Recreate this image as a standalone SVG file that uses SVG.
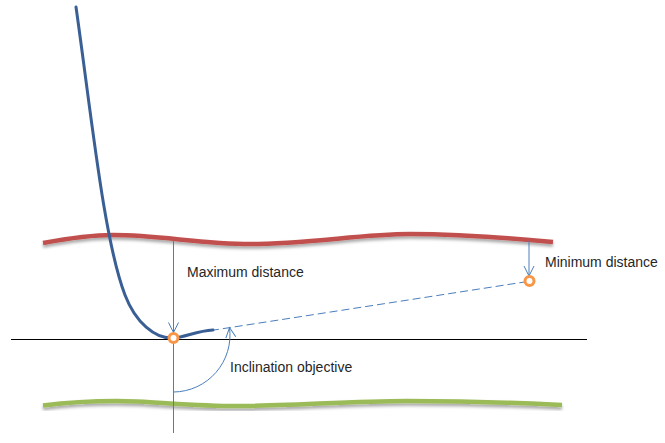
<svg xmlns="http://www.w3.org/2000/svg" width="665" height="443" viewBox="0 0 665 443">
<style>
.lbl{font-family:"Liberation Sans",Arial,sans-serif;font-size:14px;fill:#262626}
.thin{fill:none;stroke:#4A7EBB;stroke-width:1}
.pt{fill:#fff;stroke:#F79646;stroke-width:3}
</style>
<defs>
<filter id="sh" x="-5%" y="-100%" width="110%" height="300%">
<feDropShadow dx="0" dy="2.5" stdDeviation="1.5" flood-color="#000" flood-opacity="0.35"/>
</filter>
<marker id="ar" viewBox="0 0 12 12" refX="11" refY="6" markerWidth="12" markerHeight="12" markerUnits="userSpaceOnUse" orient="auto">
<path d="M1,1 L11,6 L1,11" fill="none" stroke="#4A7EBB" stroke-width="1"/>
</marker>
</defs>
<g id="baseline">
<line x1="11" y1="339.5" x2="587" y2="339.5" stroke="#000" stroke-width="1.2"/>
</g>
<g id="upper-bound">
<path d="M43,243 C70,238 90,235 113,235 C160,235 200,244 250,244 C310,244 360,234 410,234 C460,234 510,238 553,242" fill="none" stroke="#C0504D" stroke-width="4.5" filter="url(#sh)"/>
</g>
<g id="lower-bound">
<path d="M43,405.5 C70,402 95,401 117,401 C150,401 190,406 237,406 C290,406 350,401 407,401 C460,401 520,403 562,405" fill="none" stroke="#9BBB59" stroke-width="4.5" filter="url(#sh)"/>
</g>
<g id="connectors">
<line class="thin" x1="173.5" y1="241" x2="173.5" y2="433"/>
<line class="thin" x1="173.5" y1="241" x2="173.5" y2="332.5" marker-end="url(#ar)"/>
<line class="thin" x1="529" y1="241" x2="529" y2="276" marker-end="url(#ar)"/>
<line class="thin" x1="211" y1="330.5" x2="524.5" y2="282" stroke-dasharray="8,4"/>
<path class="thin" d="M173.5,392 A57,57 0 0 0 229.5,327.5" marker-end="url(#ar)"/>
</g>
<g id="trajectory">
<path d="M76,7 C92,120 104,240 125,295 C135.5,322.5 155,339 173,338 C186,337 196,331 213,330" fill="none" stroke="#3A5F95" stroke-width="3" stroke-linecap="round"/>
</g>
<g id="point-start">
<circle class="pt" cx="173.5" cy="338" r="4.5"/>
</g>
<g id="point-target">
<circle class="pt" cx="529.5" cy="281" r="4.5"/>
</g>
<g id="label-max">
<text class="lbl" x="187" y="277">Maximum distance</text>
</g>
<g id="label-min">
<text class="lbl" x="545" y="267">Minimum distance</text>
</g>
<g id="label-incl">
<text class="lbl" x="230" y="372">Inclination objective</text>
</g>
</svg>
